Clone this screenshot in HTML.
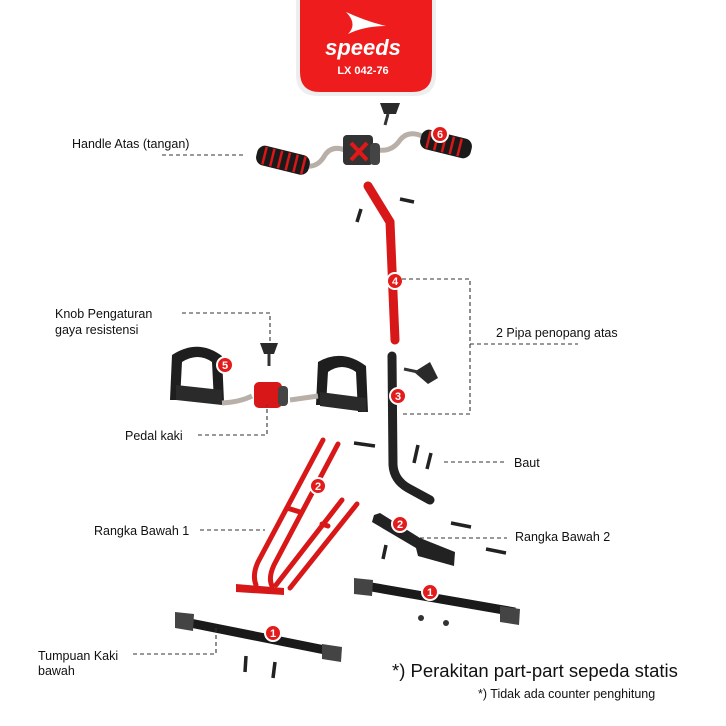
<!DOCTYPE html>
<html><head><meta charset="utf-8"><style>
html,body{margin:0;padding:0;background:#fff;}
svg{display:block;font-family:"Liberation Sans",sans-serif;}
.l{font-size:12.5px;fill:#111;}
.d{stroke:#333;stroke-width:1.1;stroke-dasharray:4 3;fill:none;}
.b circle{fill:#e31b1b;stroke:#fff;stroke-width:2;}
.b text{fill:#fff;font-size:11px;font-weight:bold;text-anchor:middle;}
</style></head><body>
<svg width="726" height="726" viewBox="0 0 726 726">
<!-- logo -->
<path d="M296 0 H436 V74 Q436 96 414 96 H318 Q296 96 296 74 Z" fill="#eee"/>
<path d="M300 0 H432 V72 Q432 92 412 92 H320 Q300 92 300 72 Z" fill="#ee1c1c"/>
<path d="M346 12 Q368 22 386 26 Q364 26 348 34 Q358 24 346 12 Z" fill="#fff"/>
<text x="363" y="55" fill="#fff" font-size="22" font-style="italic" font-weight="bold" text-anchor="middle">speeds</text>
<text x="363" y="74" fill="#fff" font-size="11" font-weight="bold" text-anchor="middle">LX 042-76</text>

<!-- handle -->
<path d="M305 166 Q318 168 325 155 Q332 145 345 150 M378 150 Q392 152 400 140 Q408 130 422 136" stroke="#b8b0a8" stroke-width="5" fill="none"/>
<g transform="rotate(14 282 160)"><rect x="256" y="150" width="54" height="20" rx="8" fill="#1a1a1a"/>
<g stroke="#d81818" stroke-width="2.5"><line x1="264" y1="151" x2="264" y2="169"/><line x1="272" y1="151" x2="272" y2="169"/><line x1="280" y1="151" x2="280" y2="169"/><line x1="288" y1="151" x2="288" y2="169"/><line x1="296" y1="151" x2="296" y2="169"/><line x1="304" y1="151" x2="304" y2="169"/></g></g>
<g transform="rotate(14 446 144)"><rect x="420" y="134" width="52" height="20" rx="8" fill="#1a1a1a"/>
<g stroke="#d81818" stroke-width="2.5"><line x1="428" y1="135" x2="428" y2="153"/><line x1="436" y1="135" x2="436" y2="153"/><line x1="444" y1="135" x2="444" y2="153"/><line x1="452" y1="135" x2="452" y2="153"/><line x1="460" y1="135" x2="460" y2="153"/></g></g>
<rect x="343" y="135" width="30" height="30" rx="4" fill="#333"/>
<rect x="370" y="143" width="10" height="22" rx="4" fill="#444"/>
<path d="M351 143 L367 160 M367 143 L351 160" stroke="#e01818" stroke-width="4"/>
<!-- top knob -->
<path d="M380 103 L400 103 L396 114 L384 114 Z" fill="#2a2a2a"/><line x1="388" y1="114" x2="385" y2="125" stroke="#333" stroke-width="3"/>
<g class="b"><circle cx="440" cy="134" r="8"/><text x="440" y="138">6</text></g>

<!-- red tube 4 -->
<path d="M368 186 L390 222 L395 340" stroke="#d81818" stroke-width="9" fill="none" stroke-linecap="round"/>
<line x1="400" y1="199" x2="414" y2="202" stroke="#222" stroke-width="3.5"/>
<line x1="361" y1="209" x2="357" y2="222" stroke="#222" stroke-width="3.5"/>
<g class="b"><circle cx="395" cy="281" r="8"/><text x="395" y="285">4</text></g>

<!-- black tube 3 -->
<path d="M392 356 L393 465 Q394 480 408 488 L430 500" stroke="#222" stroke-width="9" fill="none" stroke-linecap="round"/>
<path d="M414 372 L430 362 L438 378 L428 384 Z" fill="#2a2a2a"/><line x1="412" y1="374" x2="440" y2="376" stroke="#333" stroke-width="0"/>
<line x1="418" y1="372" x2="404" y2="369" stroke="#333" stroke-width="3"/>
<g class="b"><circle cx="398" cy="396" r="8"/><text x="398" y="400">3</text></g>

<!-- pedals -->
<path d="M170 400 L172 355 Q198 338 222 356 L224 402 L214 402 L212 362 Q198 352 182 362 L180 400 Z" fill="#1e1e1e"/>
<path d="M176 385 L222 390 L222 405 L176 400 Z" fill="#2a2a2a"/>
<path d="M316 405 L318 362 Q342 348 366 366 L368 412 L358 412 L356 372 Q342 362 328 372 L326 405 Z" fill="#1e1e1e"/>
<path d="M320 392 L366 398 L366 412 L320 406 Z" fill="#2a2a2a"/>
<path d="M222 403 Q240 402 252 396 M290 400 Q304 398 318 396" stroke="#b8b0a8" stroke-width="5" fill="none"/>
<rect x="254" y="382" width="28" height="26" rx="5" fill="#d81818"/>
<rect x="278" y="386" width="10" height="20" rx="4" fill="#444"/>
<path d="M260 343 L278 343 L274 354 L264 354 Z" fill="#2a2a2a"/><line x1="269" y1="354" x2="269" y2="366" stroke="#333" stroke-width="3"/>
<g class="b"><circle cx="225" cy="365" r="8"/><text x="225" y="369">5</text></g>

<!-- red frame 2 -->
<g stroke="#d81818" stroke-width="5" fill="none" stroke-linecap="round">
<path d="M323 440 L258 562 Q252 575 256 585"/>
<path d="M338 444 L274 565 Q268 578 272 586"/>
<path d="M342 500 L276 585"/>
<path d="M357 504 L290 588"/>
<line x1="287" y1="508" x2="300" y2="512"/><line x1="322" y1="524" x2="328" y2="526"/>
</g>
<path d="M236 584 L284 588 L284 595 L236 592 Z" fill="#d81818"/>
<g class="b"><circle cx="318" cy="486" r="8"/><text x="318" y="490">2</text></g>
<line x1="354" y1="443" x2="375" y2="446" stroke="#222" stroke-width="3.5"/>
<line x1="418" y1="445" x2="414" y2="463" stroke="#222" stroke-width="3.5"/>
<line x1="431" y1="453" x2="427" y2="469" stroke="#222" stroke-width="3.5"/>

<!-- black frame 2 -->
<path d="M374 515 L380 513 L420 538 L455 552 L454 566 L418 556 L416 548 L372 522 Z" fill="#222"/>
<g class="b"><circle cx="400" cy="524" r="8"/><text x="400" y="528">2</text></g>
<line x1="451" y1="523" x2="471" y2="527" stroke="#222" stroke-width="3.5"/>
<line x1="486" y1="549" x2="506" y2="553" stroke="#222" stroke-width="3.5"/>
<line x1="386" y1="545" x2="383" y2="559" stroke="#222" stroke-width="3.5"/>

<!-- bar 1 right -->
<line x1="360" y1="585" x2="515" y2="612" stroke="#1a1a1a" stroke-width="9"/>
<path d="M354 578 L373 580 L372 596 L354 594 Z" fill="#444"/>
<path d="M500 606 L520 609 L519 625 L500 622 Z" fill="#444"/>
<g class="b"><circle cx="430" cy="592" r="8"/><text x="430" y="596">1</text></g>
<circle cx="421" cy="618" r="3" fill="#333"/><circle cx="446" cy="623" r="3" fill="#333"/>

<!-- bar 1 left -->
<line x1="180" y1="621" x2="335" y2="652" stroke="#1a1a1a" stroke-width="9"/>
<path d="M175 612 L194 614 L193 631 L175 628 Z" fill="#444"/>
<path d="M322 644 L342 647 L341 662 L322 659 Z" fill="#444"/>
<g class="b"><circle cx="273" cy="633" r="8"/><text x="273" y="637">1</text></g>
<line x1="246" y1="656" x2="245" y2="672" stroke="#222" stroke-width="3.5"/>
<line x1="275" y1="662" x2="273" y2="678" stroke="#222" stroke-width="3.5"/>

<!-- labels & leaders -->
<text class="l" x="72" y="148">Handle Atas (tangan)</text>
<path class="d" d="M162 155 H244"/>
<text class="l" x="55" y="318">Knob Pengaturan</text>
<text class="l" x="55" y="334">gaya resistensi</text>
<path class="d" d="M182 313 H270 V345"/>
<path class="d" d="M402 279 H470 V414 H403 M470 344 H578"/>
<text class="l" x="496" y="337">2 Pipa penopang atas</text>
<text class="l" x="125" y="440">Pedal kaki</text>
<path class="d" d="M198 435 H267 V405"/>
<text class="l" x="514" y="467">Baut</text>
<path class="d" d="M444 462 H507"/>
<text class="l" x="94" y="535">Rangka Bawah 1</text>
<path class="d" d="M200 530 H265"/>
<text class="l" x="515" y="541">Rangka Bawah 2</text>
<path class="d" d="M420 538 H507"/>
<text class="l" x="38" y="660">Tumpuan Kaki</text>
<text class="l" x="38" y="675">bawah</text>
<path class="d" d="M133 654 H216 V628"/>
<text x="392" y="677" font-size="18.5" fill="#111">*) Perakitan part-part sepeda statis</text>
<text x="478" y="698" font-size="12.5" fill="#111">*) Tidak ada counter penghitung</text>
</svg>
</body></html>
